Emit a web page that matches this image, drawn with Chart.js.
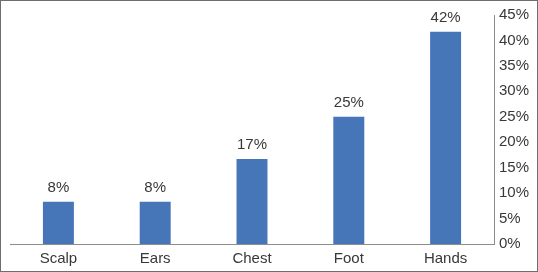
<!DOCTYPE html>
<html><head><meta charset="utf-8">
<script src="https://cdn.jsdelivr.net/npm/chart.js@4/dist/chart.umd.min.js"></script>
<style>
html,body{margin:0;padding:0;background:#fff;}
#wrap{position:relative;width:538px;height:272px;}
#frame{position:absolute;left:0;top:0;width:536px;height:270px;border:1px solid #6e6e6e;pointer-events:none;}
</style></head><body>
<div id="wrap"><canvas id="c" width="538" height="272"></canvas><div id="frame"></div></div>
<script>
const categories = ["Scalp", "Ears", "Chest", "Foot", "Hands"];
const values = [8.3, 8.3, 16.7, 25.0, 41.7];
const yTicks = [0, 5, 10, 15, 20, 25, 30, 35, 40, 45];

const textColor = '#383838';
const fontFamily = '"Liberation Sans", Arial, sans-serif';

const labelPlugin = {
  id: 'barLabels',
  afterDatasetsDraw(chart) {
    const ctx = chart.ctx;
    const meta = chart.getDatasetMeta(0);
    ctx.save();
    ctx.font = '15px ' + fontFamily;
    ctx.fillStyle = textColor;
    ctx.textAlign = 'center';
    ctx.textBaseline = 'alphabetic';
    meta.data.forEach((bar, i) => {
      ctx.fillText(Math.round(values[i]) + '%', bar.x, bar.y - 10);
    });
    ctx.restore();
  }
};

new Chart(document.getElementById('c'), {
  type: 'bar',
  data: {
    labels: categories,
    datasets: [{
      data: values,
      backgroundColor: '#4675b8',
      borderWidth: 0,
      categoryPercentage: 1,
      barPercentage: 0.32
    }]
  },
  options: {
    responsive: false,
    animation: false,
    layout: { padding: { top: 15, left: 10, right: 0, bottom: 0 } },
    plugins: { legend: { display: false }, tooltip: { enabled: false } },
    scales: {
      x: {
        grid: { display: false, drawTicks: false },
        border: { display: true, color: '#8c8c8c', width: 1 },
        ticks: { color: textColor, font: { family: fontFamily, size: 15 }, padding: 6, maxRotation: 0 },
        afterFit(s) { s.height = 28; }
      },
      y: {
        position: 'right',
        min: 0, max: 45,
        afterBuildTicks(s) { s.ticks = yTicks.map(v => ({ value: v })); },
        grid: { display: false, drawTicks: false },
        border: { display: true, color: '#8c8c8c', width: 1 },
        ticks: {
          color: textColor, font: { family: fontFamily, size: 15 }, padding: 5,
          callback: v => v + '%'
        },
        afterFit(s) { s.width = 44; }
      }
    }
  },
  plugins: [labelPlugin]
});
</script>
</body></html>
